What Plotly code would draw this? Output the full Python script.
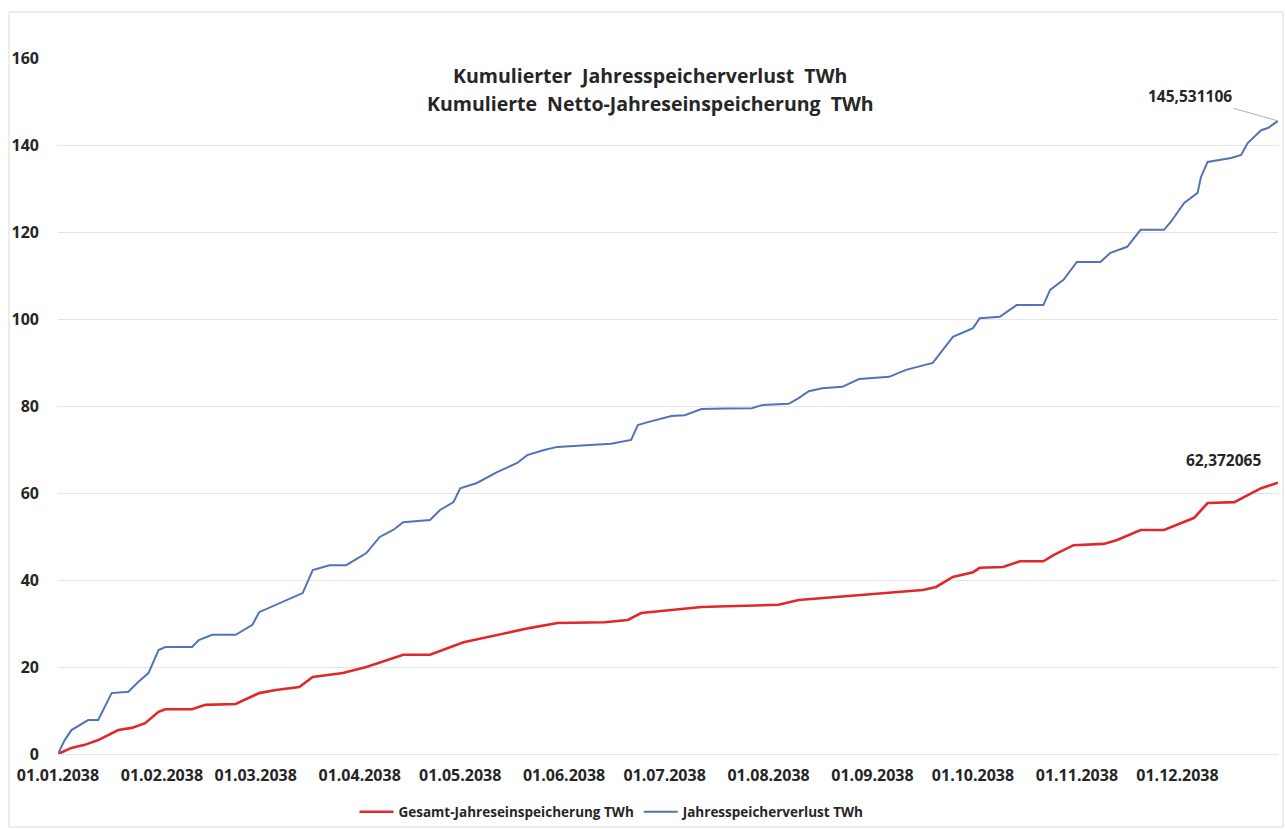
import pandas as pd
import plotly.graph_objects as go

# Day offsets from 01.01.2038 and cumulative values (TWh)
loss_days = [0, 2, 4, 9, 12, 16, 21, 24, 27, 30, 32, 40, 42, 46, 53, 58, 60, 65, 73, 76,
             81, 86, 92, 96, 100, 103, 111, 114, 118, 120, 125, 131, 137, 140, 145, 149,
             158, 165, 171, 173, 176, 183, 187, 192, 199, 207, 210, 218, 221, 224, 228,
             234, 239, 248, 253, 261, 264, 267, 273, 275, 281, 286, 294, 296, 300, 304,
             311, 314, 319, 323, 330, 332, 336, 340, 341, 343, 350, 353, 355, 359, 361, 364]
loss_vals = [0, 3.2, 5.5, 7.8, 7.8, 14.0, 14.3, 16.6, 18.6, 23.9, 24.6, 24.6, 26.2, 27.4,
             27.4, 29.7, 32.6, 34.3, 37.0, 42.3, 43.4, 43.4, 46.2, 49.9, 51.5, 53.3, 53.8,
             56.1, 57.9, 61.1, 62.3, 64.8, 66.9, 68.7, 69.9, 70.6, 71.0, 71.3, 72.2, 75.6,
             76.3, 77.7, 77.9, 79.3, 79.4, 79.5, 80.2, 80.5, 81.8, 83.4, 84.1, 84.4, 86.2,
             86.7, 88.3, 89.9, 92.9, 95.9, 97.9, 100.2, 100.5, 103.2, 103.2, 106.7, 109.0,
             113.1, 113.1, 115.2, 116.6, 120.5, 120.5, 122.3, 126.7, 129.0, 132.6, 136.1,
             137.0, 137.7, 140.5, 143.4, 143.9, 145.531106]

store_days = [0, 4, 8, 12, 18, 22, 26, 30, 32, 40, 44, 53, 60, 65, 72, 76, 85, 92, 103,
              111, 121, 131, 141, 149, 163, 170, 174, 183, 192, 197, 215, 221, 239, 258,
              262, 267, 273, 275, 282, 287, 294, 297, 303, 312, 316, 323, 330, 335, 339,
              343, 351, 355, 359, 364]
store_vals = [0, 1.4, 2.1, 3.2, 5.5, 6.0, 7.1, 9.7, 10.3, 10.3, 11.3, 11.5, 14.0, 14.7,
              15.4, 17.7, 18.6, 20.0, 22.8, 22.8, 25.7, 27.4, 29.0, 30.1, 30.3, 30.8, 32.4,
              33.1, 33.8, 33.9, 34.3, 35.4, 36.6, 37.7, 38.4, 40.7, 41.8, 42.8, 43.0, 44.3,
              44.3, 45.7, 48.0, 48.3, 49.2, 51.5, 51.5, 53.1, 54.3, 57.7, 57.9, 59.5, 61.1,
              62.372065]

y_ticks = [0, 20, 40, 60, 80, 100, 120, 140, 160]
title_lines = ["Kumulierter  Jahresspeicherverlust  TWh",
               "Kumulierte  Netto-Jahreseinspeicherung  TWh"]
loss_label = "145,531106"
store_label = "62,372065"

start = pd.Timestamp("2038-01-01")
loss_x = start + pd.to_timedelta(loss_days, unit="D")
store_x = start + pd.to_timedelta(store_days, unit="D")

FONT = "Open Sans"
TXT = "#262626"

fig = go.Figure()
fig.add_trace(go.Scatter(x=store_x, y=store_vals, mode="lines",
                         name="<b>Gesamt-Jahreseinspeicherung TWh</b>",
                         line=dict(color="#e0282c", width=2.6)))
fig.add_trace(go.Scatter(x=loss_x, y=loss_vals, mode="lines",
                         name="<b>Jahresspeicherverlust TWh</b>",
                         line=dict(color="#5273b6", width=2)))

W, H = 1285, 829
L, R, T, B = 58, 7, 58, 75
pw, ph = W - L - R, H - T - B

def px(xp):
    return (xp - L) / pw

def py(yp):
    return (H - B - yp) / ph

fig.add_shape(type="rect", xref="paper", yref="paper",
              x0=px(9), x1=px(1283), y0=py(827), y1=py(12),
              line=dict(color="#d9d9d9", width=1), layer="below")

for i, t in enumerate(title_lines):
    fig.add_annotation(text="<b>%s</b>" % t.replace("  ", "&nbsp; "), xref="paper", yref="paper",
                       x=px(650), y=py(75 + 28 * i), xanchor="center", yanchor="middle",
                       showarrow=False,
                       font=dict(family=FONT, size=19.5, color=TXT))

fig.add_annotation(x=loss_x[-1], y=loss_vals[-1], text="<b>%s</b>" % loss_label,
                   showarrow=True, arrowhead=0, arrowwidth=1, arrowcolor="#b0b0b0",
                   ax=-88, ay=-25, font=dict(family=FONT, size=15.5, color=TXT))
fig.add_annotation(x=store_x[-1], y=store_vals[-1], text="<b>%s</b>" % store_label,
                   showarrow=False, xshift=-55, yshift=23,
                   font=dict(family=FONT, size=15.5, color=TXT))

fig.update_layout(
    width=W, height=H,
    margin=dict(l=L, r=R, t=T, b=B, pad=0),
    paper_bgcolor="white", plot_bgcolor="white",
    font=dict(family=FONT, color=TXT),
    showlegend=True,
    legend=dict(orientation="h", xref="container", x=612 / W, xanchor="center",
                yref="container", y=1 - 812 / H, yanchor="middle",
                font=dict(family=FONT, size=13.5, color=TXT), itemwidth=34,
                bgcolor="rgba(0,0,0,0)"),
)
fig.update_xaxes(type="date", range=[start, start + pd.Timedelta(days=364)],
                 tickformat="<b>%d.%m.%Y</b>", dtick="M1", tick0=start,
                 showgrid=False, showline=False, zeroline=False, automargin=False,
                 ticks="", ticklabelstandoff=10,
                 tickfont=dict(family=FONT, size=16, color=TXT))
fig.update_yaxes(range=[0, 160], tickvals=y_ticks,
                 ticktext=["<b>%d</b>" % v for v in y_ticks],
                 showgrid=True, gridcolor="#e4e4e4", gridwidth=1,
                 zeroline=True, zerolinecolor="#e4e4e4", zerolinewidth=1,
                 showline=False, ticks="", ticklabelstandoff=18, automargin=False,
                 tickfont=dict(family=FONT, size=16, color=TXT))

fig.write_html("out.html")
